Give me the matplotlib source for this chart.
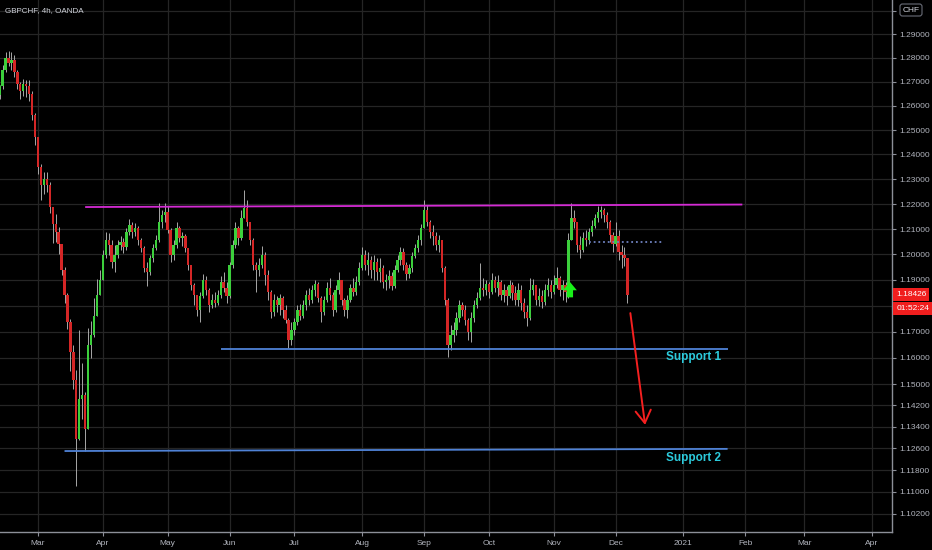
import numpy as np
import matplotlib
matplotlib.use("Agg")
import matplotlib.pyplot as plt
from matplotlib.ticker import NullLocator

plt.rcParams['font.family'] = ['Liberation Sans', 'DejaVu Sans']

# ---- data (daily candles) ----
symbol_title = 'GBPCHF, 4h, OANDA'
start_date = '2020-02-12'
first_open = 1.2645

closes = [
    # Feb
    1.2680, 1.2750, 1.2800, 1.2780, 1.2790, 1.2740, 1.2690, 1.2660, 1.2690, 1.2680, 1.2650, 1.2560, 1.2470,
    # Mar
    1.2350, 1.2276, 1.2300, 1.2276, 1.2190, 1.2120, 1.2090, 1.2040, 1.1940, 1.1840, 1.1735, 1.1620, 1.1517,
    1.1294, 1.1442, 1.1460, 1.1330, 1.1650, 1.1688, 1.1760, 1.1840, 1.1900,
    # Apr
    1.1997, 1.2057, 1.2037, 1.1970, 1.1997, 1.2037, 1.2049, 1.2029, 1.2088, 1.2116, 1.2088, 1.2104, 1.2057,
    1.2025, 1.1947, 1.1931, 1.1986, 1.2025, 1.2057, 1.2128, 1.2156, 1.2168,
    # May
    1.2096, 1.1997, 1.2037, 1.2104, 1.2065, 1.2072, 1.2025, 1.1958, 1.1880, 1.1842, 1.1784, 1.1838, 1.1900,
    1.1861, 1.1804, 1.1823, 1.1811, 1.1842, 1.1892, 1.1869, 1.1838,
    # Jun
    1.1958, 1.2037, 1.2104, 1.2065, 1.2144, 1.2184, 1.2128, 1.2057, 1.1958, 1.1939, 1.1958, 1.1997, 1.1920,
    1.1853, 1.1776, 1.1823, 1.1804, 1.1830, 1.1784, 1.1746, 1.1669, 1.1707,
    # Jul
    1.1738, 1.1784, 1.1761, 1.1804, 1.1842, 1.1823, 1.1861, 1.1884, 1.1830, 1.1776, 1.1823, 1.1869, 1.1842,
    1.1784, 1.1861, 1.1900, 1.1823, 1.1784, 1.1823, 1.1869, 1.1853, 1.1892, 1.1947,
    # Aug
    1.1997, 1.1958, 1.1978, 1.1939, 1.1970, 1.1931, 1.1947, 1.1892, 1.1900, 1.1916, 1.1877, 1.1939, 1.1978,
    1.2009, 1.1958, 1.1923, 1.1947, 1.1993, 1.2025, 1.2057, 1.2104,
    # Sep
    1.2176, 1.2128, 1.2088, 1.2072, 1.2037, 1.2057, 1.1947, 1.1823, 1.1650, 1.1688, 1.1707, 1.1753, 1.1804,
    1.1784, 1.1746, 1.1700, 1.1753, 1.1804, 1.1830, 1.1869, 1.1861, 1.1884,
    # Oct
    1.1853, 1.1900, 1.1869, 1.1892, 1.1842, 1.1861, 1.1838, 1.1880, 1.1849, 1.1823, 1.1861, 1.1811, 1.1776,
    1.1753, 1.1861, 1.1880, 1.1823, 1.1838, 1.1815, 1.1861, 1.1880, 1.1853,
    # Nov
    1.1880, 1.1908, 1.1861, 1.1880, 1.1853, 1.2057, 1.2144, 1.2128, 1.2037, 1.2017, 1.2065, 1.2057, 1.2088,
    1.2112, 1.2144, 1.2168, 1.2176, 1.2156, 1.2128, 1.2076, 1.2041,
    # Dec
    1.2072, 1.2009, 1.1997, 1.1986, 1.18426,
]

highs = [
    1.2685, 1.2770, 1.2825, 1.2830, 1.2825, 1.2810, 1.2750, 1.2700, 1.2710, 1.2705, 1.2705, 1.2660, 1.2570,
    1.2470, 1.2360, 1.2330, 1.2328, 1.2290, 1.2190, 1.2160, 1.2110, 1.2040, 1.1950, 1.1850, 1.1750, 1.1650,
    1.1555, 1.1707, 1.1580, 1.1470, 1.1715, 1.1740, 1.1830, 1.1905, 1.1940,
    1.2017, 1.2088, 1.2084, 1.2057, 1.2037, 1.2057, 1.2072, 1.2065, 1.2104, 1.2140, 1.2128, 1.2124, 1.2112,
    1.2065, 1.2033, 1.1970, 1.1997, 1.2041, 1.2076, 1.2204, 1.2176, 1.2204,
    1.2192, 1.2104, 1.2057, 1.2128, 1.2112, 1.2088, 1.2080, 1.2025, 1.1958, 1.1888, 1.1842, 1.1853, 1.1923,
    1.1916, 1.1869, 1.1846, 1.1853, 1.1861, 1.1916, 1.1931, 1.1892,
    1.1970, 1.2057, 1.2128, 1.2112, 1.2176, 1.2256, 1.2216, 1.2128, 1.2065, 1.1970, 1.1986, 1.2033, 1.2009,
    1.1939, 1.1861, 1.1846, 1.1838, 1.1846, 1.1838, 1.1804, 1.1753, 1.1738,
    1.1753, 1.1804, 1.1807, 1.1823, 1.1861, 1.1869, 1.1880, 1.1900, 1.1892, 1.1838, 1.1838, 1.1892, 1.1908,
    1.1853, 1.1880, 1.1931, 1.1900, 1.1830, 1.1842, 1.1884, 1.1908, 1.1916, 1.1970,
    1.2029, 1.2017, 1.2009, 1.1993, 1.1997, 1.1986, 1.1986, 1.1958, 1.1923, 1.1939, 1.1931, 1.1958, 1.1997,
    1.2029, 1.2025, 1.1970, 1.1962, 1.2009, 1.2041, 1.2076, 1.2120,
    1.2216, 1.2196, 1.2136, 1.2116, 1.2088, 1.2076, 1.2057, 1.1954, 1.1830, 1.1726, 1.1738, 1.1776, 1.1823,
    1.1815, 1.1804, 1.1753, 1.1776, 1.1823, 1.1853, 1.1966, 1.1908, 1.1900,
    1.1892, 1.1927, 1.1916, 1.1920, 1.1900, 1.1884, 1.1877, 1.1900, 1.1892, 1.1877, 1.1888, 1.1880, 1.1830,
    1.1804, 1.1908, 1.1904, 1.1877, 1.1869, 1.1861, 1.1884, 1.1908, 1.1900,
    1.1920, 1.1951, 1.1916, 1.1900, 1.1892, 1.2084, 1.2204, 1.2176, 1.2128, 1.2072, 1.2088, 1.2096, 1.2104,
    1.2136, 1.2160, 1.2192, 1.2192, 1.2184, 1.2168, 1.2136, 1.2088,
    1.2128, 1.2096, 1.2037, 1.2029, 1.1986,
]

lows = [
    1.2630, 1.2670, 1.2740, 1.2765, 1.2750, 1.2720, 1.2670, 1.2630, 1.2640, 1.2635, 1.2620, 1.2540, 1.2440,
    1.2320, 1.2216, 1.2240, 1.2250, 1.2165, 1.2045, 1.2050, 1.2000, 1.1920, 1.1810, 1.1710, 1.1550, 1.1480,
    1.1122, 1.1290, 1.1370, 1.1250, 1.1330, 1.1600, 1.1680, 1.1795, 1.1840,
    1.1900, 1.1986, 1.1997, 1.1947, 1.1931, 1.1986, 1.2017, 1.2005, 1.2017, 1.2076, 1.2065, 1.2072, 1.2037,
    1.2009, 1.1931, 1.1877, 1.1920, 1.1970, 1.2017, 1.2049, 1.2104, 1.2128,
    1.2084, 1.1970, 1.1978, 1.2025, 1.2049, 1.2033, 1.2009, 1.1939, 1.1861, 1.1804, 1.1761, 1.1738, 1.1830,
    1.1842, 1.1776, 1.1792, 1.1796, 1.1804, 1.1830, 1.1853, 1.1811,
    1.1830, 1.1947, 1.2025, 1.2037, 1.2057, 1.2156, 1.2112, 1.2037, 1.1939, 1.1853, 1.1916, 1.1947, 1.1880,
    1.1823, 1.1753, 1.1761, 1.1776, 1.1765, 1.1753, 1.1734, 1.1638, 1.1650,
    1.1688, 1.1726, 1.1746, 1.1753, 1.1784, 1.1804, 1.1811, 1.1838, 1.1815, 1.1738, 1.1765, 1.1815, 1.1823,
    1.1761, 1.1776, 1.1846, 1.1804, 1.1761, 1.1753, 1.1815, 1.1838, 1.1842, 1.1880,
    1.1939, 1.1939, 1.1920, 1.1908, 1.1900, 1.1900, 1.1892, 1.1869, 1.1861, 1.1869, 1.1861, 1.1869, 1.1931,
    1.1958, 1.1939, 1.1900, 1.1908, 1.1931, 1.1986, 1.2009, 1.2037,
    1.2104, 1.2112, 1.2065, 1.2037, 1.2017, 1.2009, 1.1931, 1.1804, 1.1604, 1.1631, 1.1661, 1.1688, 1.1738,
    1.1761, 1.1726, 1.1669, 1.1661, 1.1738, 1.1792, 1.1823, 1.1838, 1.1842,
    1.1830, 1.1846, 1.1853, 1.1838, 1.1823, 1.1815, 1.1804, 1.1830, 1.1823, 1.1804, 1.1800, 1.1784, 1.1753,
    1.1722, 1.1746, 1.1842, 1.1804, 1.1800, 1.1792, 1.1804, 1.1838, 1.1830,
    1.1846, 1.1869, 1.1838, 1.1823, 1.1815, 1.1830, 1.2065, 1.2104, 1.2009, 1.1986, 1.2009, 1.2033, 1.2041,
    1.2072, 1.2104, 1.2128, 1.2144, 1.2128, 1.2104, 1.2049, 1.2009,
    1.2033, 1.1978, 1.1947, 1.1955, 1.1811,
]

last_price = 1.18426
countdown = '01:52:24'

price_ticks = [1.30, 1.29, 1.28, 1.27, 1.26, 1.25, 1.24, 1.23, 1.22, 1.21, 1.20, 1.19, 1.18, 1.17,
               1.16, 1.15, 1.142, 1.134, 1.126, 1.118, 1.110, 1.102]
hidden_ticks = [1.30, 1.18]  # covered by the currency box / last price tag

month_ticks = ['2020-03-02', '2020-04-01', '2020-05-01', '2020-06-01', '2020-07-01', '2020-08-03',
               '2020-09-01', '2020-10-01', '2020-11-02', '2020-12-01', '2021-01-01', '2021-02-01',
               '2021-03-01', '2021-04-01']
month_labels = ['Mar', 'Apr', 'May', 'Jun', 'Jul', 'Aug', 'Sep', 'Oct', 'Nov', 'Dec', '2021',
                'Feb', 'Mar', 'Apr']

# drawings on the chart: (date, price)
resistance = [('2020-03-24', 1.2188), ('2021-01-29', 1.2198)]
support_1 = [('2020-05-27', 1.1633), ('2021-01-22', 1.1633)]
support_2 = [('2020-03-13', 1.1250), ('2021-01-22', 1.1258)]
breakout_level = [('2020-11-18', 1.2049), ('2020-12-23', 1.2049)]
forecast_arrow = [('2020-12-08', 1.1771), ('2020-12-15', 1.1347)]
buy_signal = ('2020-11-09', 1.1832, 1.1892)
support_labels = [('Support 1', '2020-12-24', 1.1602), ('Support 2', '2020-12-24', 1.1224)]

# ---- colours ----
BG = '#000000'
GRID = '#252525'
AXIS = '#8c8f98'
TEXT = '#b2b5be'
UP = '#3ccf3c'
DOWN = '#d42626'
WICK = '#a8a8a8'


def bar_pos(date):
    return float(np.busday_count(start_date, date))


fig = plt.figure(figsize=(9.32, 5.50), dpi=100, facecolor=BG)
ax = fig.add_axes([0, 18 / 550, 892 / 932, 532 / 550], facecolor=BG)
ax.set_yscale('log')

# candles
o = np.array([first_open] + closes[:-1])
c = np.array(closes)
hi = np.maximum(np.array(highs), np.maximum(o, c))
lo = np.minimum(np.array(lows), np.minimum(o, c))
x = np.arange(len(c))
body_col = np.where(c >= o, UP, DOWN)

ax.vlines(x, lo, hi, color=WICK, lw=0.7, zorder=2)
ax.bar(x, np.maximum(np.abs(c - o), 0.0004), bottom=np.minimum(o, c), width=0.8,
       color=body_col, linewidth=0, zorder=2.5)

# horizontal levels
for line, col in [(resistance, '#d42bd4'), (support_1, '#4f82d6'), (support_2, '#4f82d6')]:
    ax.plot([bar_pos(d) for d, _ in line], [p for _, p in line], color=col, lw=1.3,
            solid_capstyle='butt', zorder=3)
ax.plot([bar_pos(d) for d, _ in breakout_level], [p for _, p in breakout_level],
        color='#6f82c0', lw=1.3, ls=(0, (1, 1.6)), zorder=3)

for text, d, p in support_labels:
    ax.text(bar_pos(d), p, text, color='#2ccbdc', fontsize=8.5, fontweight='bold',
            ha='left', va='center', zorder=4)

# forecast arrow
(d0, p0), (d1, p1) = forecast_arrow
ax.annotate('', xy=(bar_pos(d1), p1), xytext=(bar_pos(d0), p0),
            arrowprops=dict(arrowstyle='->,head_length=0.9,head_width=0.55', color='#f52020',
                            lw=1.4, shrinkA=0, shrinkB=0), zorder=4)

# buy signal arrow
d, p_lo, p_hi = buy_signal
ax.annotate('', xy=(bar_pos(d) + 0.5, p_hi), xytext=(bar_pos(d) + 0.5, p_lo),
            arrowprops=dict(arrowstyle='simple,head_length=0.6,head_width=1.0,tail_width=0.45',
                            color='#19f019', lw=0, shrinkA=0, shrinkB=0), zorder=4)

# axes limits (bar index based, like the original)
i_a, i_b = bar_pos(month_ticks[0]), bar_pos(month_ticks[-1])
ppb = (872 - 38) / (i_b - i_a)
ax.set_xlim(i_a - 38 / ppb, i_a + (892 - 38) / ppb)
ax.set_ylim(1.0955, 1.3045)

ax.yaxis.tick_right()
ax.set_yticks(price_ticks, ['' if any(abs(t - h) < 1e-9 for h in hidden_ticks) else f'{t:.5f}'
                            for t in price_ticks])
ax.yaxis.set_minor_locator(NullLocator())
ax.set_xticks([bar_pos(m) for m in month_ticks], month_labels)
ax.xaxis.set_minor_locator(NullLocator())

ax.tick_params(axis='both', colors=AXIS, labelcolor=TEXT, labelsize=6, length=3, width=0.8, pad=2)
ax.tick_params(axis='x', pad=3)
ax.grid(True, color=GRID, lw=0.9)
ax.set_axisbelow(True)
for side in ['top', 'left']:
    ax.spines[side].set_visible(False)
for side in ['right', 'bottom']:
    ax.spines[side].set_color(AXIS)
    ax.spines[side].set_linewidth(1)

# last price tag + bar countdown
ytr = ax.get_yaxis_transform()
ax.annotate(f'{last_price:.5f}', xy=(1, last_price), xycoords=ytr, xytext=(3, 0),
            textcoords='offset points', ha='left', va='center', fontsize=6, color='white',
            bbox=dict(boxstyle='square,pad=0.35', fc='#f01e1e', ec='none'), annotation_clip=False)
ax.annotate(countdown, xy=(1, last_price), xycoords=ytr, xytext=(3, -10),
            textcoords='offset points', ha='left', va='center', fontsize=6, color='white',
            bbox=dict(boxstyle='square,pad=0.35', fc='#f01e1e', ec='none'), annotation_clip=False)

fig.text(5 / 932, 1 - 11 / 550, symbol_title, ha='left', va='center', fontsize=5.8, color='#d1d4dc')
fig.text(911 / 932, 1 - 10 / 550, 'CHF', ha='center', va='center', fontsize=6, color='#d1d4dc',
         bbox=dict(boxstyle='round,pad=0.3', fc=BG, ec='#6a6d78', lw=0.8))

fig.savefig('out.png', dpi=100, facecolor=BG)
